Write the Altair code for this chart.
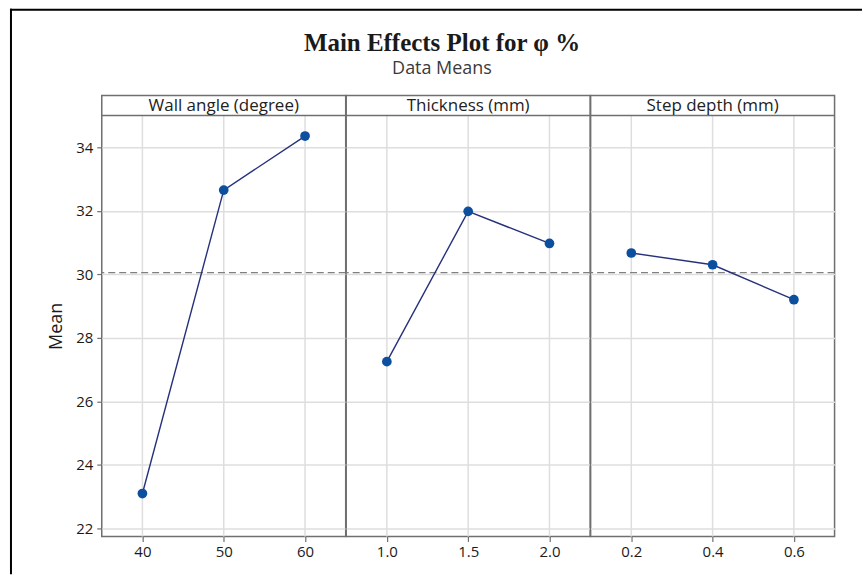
import altair as alt
import pandas as pd

# ---- data ----
factors = ["Wall angle (degree)", "Thickness (mm)", "Step depth (mm)"]
wall_levels = ["40", "50", "60"]
wall_means = [23.1, 32.65, 34.35]
thick_levels = ["1.0", "1.5", "2.0"]
thick_means = [27.25, 31.98, 30.97]
step_levels = ["0.2", "0.4", "0.6"]
step_means = [30.67, 30.30, 29.20]
y_ticks = [22, 24, 26, 28, 30, 32, 34]

rows = []
for f, levels, means in zip(factors,
                            [wall_levels, thick_levels, step_levels],
                            [wall_means, thick_means, step_means]):
    for i, (lv, m) in enumerate(zip(levels, means)):
        rows.append({"factor": f, "level": lv, "mean": m, "order": i})
df = pd.DataFrame(rows)
grand_mean = float(df["mean"].mean())

W = 244.5
H = 442
HEAD = 20
STROKE = "#6f6f6f"
GRID = "#dedede"

xenc = alt.X(
    "level:O",
    scale=alt.Scale(type="point", padding=0.5),
    axis=alt.Axis(title=None, labelAngle=0, grid=False, domain=False,
                  tickSize=5, tickColor=STROKE, tickWidth=1.2,
                  labelFont="Open Sans", labelFontSize=15, labelColor="#1a1a1a",
                  labelPadding=3),
)
yenc = alt.Y(
    "mean:Q",
    scale=alt.Scale(domain=[21.75, 35.0], range=[H, HEAD], nice=False, zero=False),
    axis=alt.Axis(values=y_ticks, title="Mean", grid=True, gridColor=GRID,
                  gridWidth=1.5, domain=False, tickSize=5, tickColor=STROKE,
                  tickWidth=1.2, labelFont="Open Sans", labelFontSize=15,
                  labelColor="#1a1a1a", labelPadding=4,
                  titleFont="Open Sans", titleFontSize=18, titleFontWeight="normal",
                  titleColor="#1a1a1a", titlePadding=10),
)

first = alt.datum.order == 0

xgrid = alt.Chart().mark_rule(color=GRID, strokeWidth=1.5).encode(
    x=xenc, y=alt.value(HEAD), y2=alt.value(H))

mean_rule = alt.Chart().transform_filter(first).mark_rule(
    color="#808080", strokeWidth=1.3, strokeDash=[7, 4]).encode(
    y=alt.datum(grand_mean))

line = alt.Chart().mark_line(color="#26317c", strokeWidth=1.4).encode(x=xenc, y=yenc)
pts = alt.Chart().mark_point(filled=True, size=95, color="#0b4f9e", opacity=1).encode(
    x=xenc, y=yenc)

head_rule = alt.Chart().transform_filter(first).mark_rule(
    color=STROKE, strokeWidth=1.5).encode(
    x=alt.value(0), x2=alt.value(W), y=alt.value(HEAD))
head_text = alt.Chart().transform_filter(first).mark_text(
    font="Open Sans", fontSize=17, color="#222222", baseline="middle").encode(
    x=alt.value(W / 2), y=alt.value(HEAD / 2 + 0.5), text="factor:N")

frame_sel = (alt.datum.order == 0) & (alt.datum.factor == factors[0])
frame_left = alt.Chart().transform_filter(frame_sel).mark_rule(
    color="#000000", strokeWidth=2).encode(
    x=alt.value(-91), y=alt.value(-87), y2=alt.value(480))
frame_top = alt.Chart().transform_filter(frame_sel).mark_rule(
    color="#000000", strokeWidth=2).encode(
    x=alt.value(-92), x2=alt.value(762), y=alt.value(-86))

layered = alt.layer(xgrid, mean_rule, line, pts, head_rule, head_text,
                    frame_left, frame_top).properties(width=W, height=H)

chart = layered.facet(
    data=df,
    column=alt.Column("factor:N", sort=factors, title=None,
                      header=alt.Header(labels=False)),
    spacing=0,
    bounds="flush",
).resolve_scale(x="independent").properties(
    title=alt.TitleParams(
        text="Main Effects Plot for φ %",
        subtitle="Data Means",
        font="Liberation Serif", fontSize=25, fontWeight="bold", color="#1a1a1a",
        subtitleFont="Open Sans", subtitleFontSize=18, subtitleColor="#3a3a3a",
        subtitlePadding=4, anchor="middle", offset=-71, dx=6,
    ),
    padding={"left": 8, "top": 6, "right": 0, "bottom": 0},
    background="#ffffff",
).configure_view(stroke=STROKE, strokeWidth=1.5)

chart.save("out.html", embed_options={"renderer": "svg", "actions": False})
